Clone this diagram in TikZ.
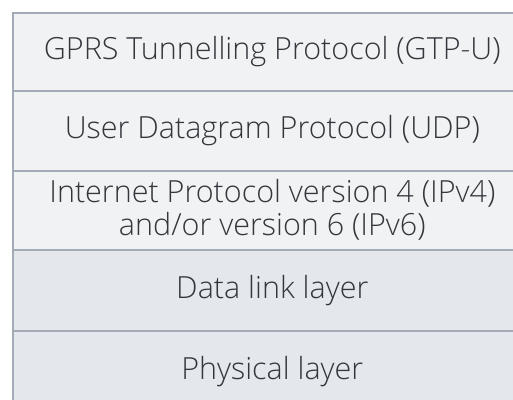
\documentclass[tikz,border=0pt]{standalone}
\usepackage{fontspec}
\setmainfont{Open Sans}[UprightFont={* Light}]
\definecolor{toprow}{HTML}{F1F2F4}
\definecolor{botrow}{HTML}{E4E7EC}
\definecolor{edge}{HTML}{A3ABB6}
\definecolor{ink}{HTML}{33373C}
\tikzset{
  layer/.style={draw=edge, line width=1.6pt, minimum width=519pt, inner sep=0pt, anchor=north west, text=ink, font=\fontsize{30.5}{33}\selectfont, align=center},
}
\begin{document}
\begin{tikzpicture}[x=1pt,y=-1pt]
\useasboundingbox (0,0) rectangle (513,399);
\begin{scope}
\clip (0,0) rectangle (513,399);
\node[layer, fill=toprow, minimum height=78pt] (gtp) at (12,12) {GPRS Tunnelling Protocol (GTP-U)};
\node[layer, fill=toprow, minimum height=80pt] (udp) at (12,90) {User Datagram Protocol (UDP)};
\node[layer, fill=toprow, minimum height=79pt] (ip) at (12,170) {Internet Protocol version 4 (IPv4)\\and/or version 6 (IPv6)};
\node[layer, fill=botrow, minimum height=81pt] (dl) at (12,249) {Data link layer};
\node[layer, fill=botrow, minimum height=81pt] (phy) at (12,330) {Physical layer};
\end{scope}
\end{tikzpicture}
\end{document}
